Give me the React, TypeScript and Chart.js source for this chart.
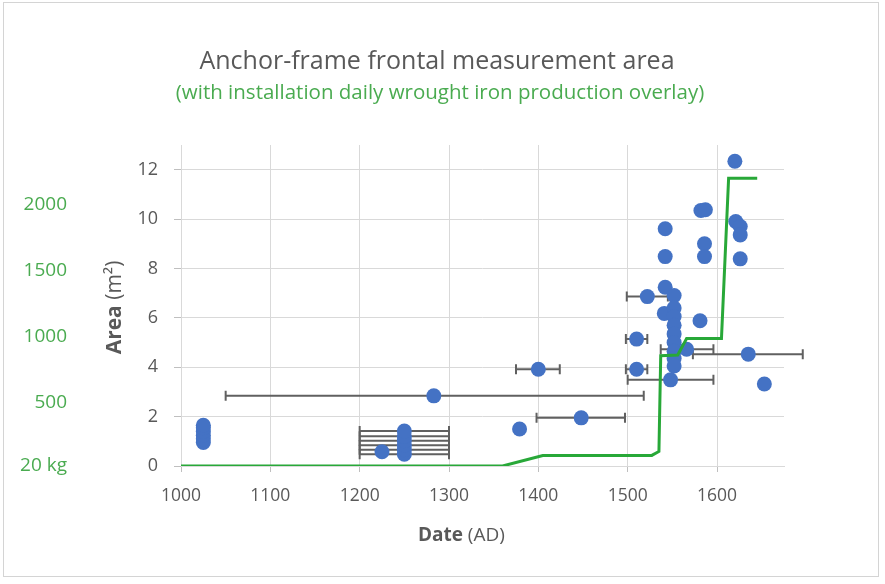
import { useEffect, useRef } from "react";
import { Chart, registerables } from "chart.js";

Chart.register(...registerables);

const FONT = '"Open Sans", "Noto Sans", sans-serif';
const GREY = "#595959";
const GRID = "#d9d9d9";
const GREEN_TEXT = "#4aab50";
const GREEN_LINE = "#28a838";
const BLUE = "#4472c4";
const BAR = "#606060";

const TITLE = "Anchor-frame frontal measurement area";
const SUBTITLE = "(with installation daily wrought iron production overlay)";

// Frontal measurement areas (m²) by estimated date (AD)
const measurementYears = [
  1025, 1025, 1025, 1025, 1025, 1025,
  1225,
  1250, 1250, 1250, 1250, 1250, 1250,
  1283, 1379, 1400, 1448,
  1510, 1510, 1522,
  1542, 1542, 1542, 1541, 1548,
  1552, 1552, 1552, 1552, 1552, 1552, 1552, 1552, 1552,
  1566, 1581, 1582, 1587, 1586, 1586,
  1620, 1621, 1626, 1626, 1626, 1635, 1653,
];
const measurementAreas = [
  0.95, 1.1, 1.25, 1.4, 1.55, 1.65,
  0.58,
  0.48, 0.66, 0.84, 1.02, 1.2, 1.42,
  2.84, 1.5, 3.92, 1.95,
  3.92, 5.14, 6.86,
  9.61, 8.48, 7.24, 6.18, 3.49,
  6.9, 6.4, 6.05, 5.7, 5.35, 5.0, 4.65, 4.35, 4.05,
  4.73, 5.88, 10.35, 10.38, 9.0, 8.48,
  12.34, 9.9, 9.7, 9.36, 8.39, 4.53, 3.32,
];
// Dating ranges (AD); null where the date is not bracketed
const dateRangeFrom: (number | null)[] = [
  null, null, null, null, null, null,
  null,
  1200, 1200, 1200, 1200, 1200, 1200,
  1050, null, 1375, 1398,
  1498, 1498, 1499,
  null, null, null, null, 1500,
  null, null, null, null, null, null, null, null, null,
  1537, null, null, null, null, null,
  null, null, null, null, null, 1573, null,
];
const dateRangeTo: (number | null)[] = [
  null, null, null, null, null, null,
  null,
  1300, 1300, 1300, 1300, 1300, 1300,
  1518, null, 1424, 1497,
  1522, 1522, 1545,
  null, null, null, null, 1596,
  null, null, null, null, null, null, null, null, null,
  1596, null, null, null, null, null,
  null, null, null, null, null, 1696, null,
];

// Installation daily wrought iron production (kg)
const productionYears = [1000, 1360, 1405, 1527, 1535, 1537, 1556, 1566, 1605, 1613, 1645];
const productionKg = [20, 20, 100, 100, 130, 855, 860, 985, 985, 2200, 2200];

const yearTicks = [1000, 1100, 1200, 1300, 1400, 1500, 1600];
const areaTicks = [0, 2, 4, 6, 8, 10, 12];
const kgTicks = [20, 500, 1000, 1500, 2000];

const YEAR_MIN = 1000;
const YEAR_MAX = 1675;
const AREA_MAX = 13;
// kg axis aligned to the area axis: kg = KG_BASE + KG_PER_M2 * area
const KG_BASE = 20;
const KG_PER_M2 = 187;

const dateRangePlugin = {
  id: "dateRanges",
  beforeDatasetsDraw(chart: any) {
    const { ctx, scales } = chart;
    const x = scales.x;
    const y = scales.y;
    ctx.save();
    ctx.strokeStyle = BAR;
    ctx.lineWidth = 2;
    measurementAreas.forEach((a, i) => {
      const lo = dateRangeFrom[i];
      const hi = dateRangeTo[i];
      if (lo == null || hi == null) return;
      const py = y.getPixelForValue(a);
      const x0 = x.getPixelForValue(lo);
      const x1 = x.getPixelForValue(hi);
      ctx.beginPath();
      ctx.moveTo(x0, py);
      ctx.lineTo(x1, py);
      ctx.moveTo(x0, py - 5);
      ctx.lineTo(x0, py + 5);
      ctx.moveTo(x1, py - 5);
      ctx.lineTo(x1, py + 5);
      ctx.stroke();
    });
    ctx.restore();
  },
};

function drawParts(ctx: CanvasRenderingContext2D, parts: [string, boolean][], size: number) {
  const fonts = parts.map(([, bold]) => `${bold ? "bold " : ""}${size}px ${FONT}`);
  const widths = parts.map(([t], i) => {
    ctx.font = fonts[i];
    return ctx.measureText(t).width;
  });
  const total = widths.reduce((s, w) => s + w, 0);
  let cx = -total / 2;
  parts.forEach(([t], i) => {
    ctx.font = fonts[i];
    ctx.fillText(t, cx, 0);
    cx += widths[i];
  });
}

// Heading, subtitle and the mixed-weight axis titles
const textPlugin = {
  id: "chartTexts",
  afterDraw(chart: any) {
    const { ctx, chartArea } = chart;
    ctx.save();
    ctx.textBaseline = "middle";

    ctx.textAlign = "center";
    ctx.fillStyle = GREY;
    ctx.font = `25px ${FONT}`;
    ctx.fillText(TITLE, 437, 62);
    ctx.fillStyle = GREEN_TEXT;
    ctx.font = `20.5px ${FONT}`;
    ctx.fillText(SUBTITLE, 440, 93);

    ctx.textAlign = "left";
    ctx.fillStyle = GREY;
    ctx.save();
    ctx.translate(chartArea.left + (chartArea.right - chartArea.left) * 0.465, 536);
    drawParts(ctx, [["Date", true], [" (AD)", false]], 19);
    ctx.restore();
    ctx.save();
    ctx.translate(115, (chartArea.top + chartArea.bottom) / 2 + 2);
    ctx.rotate(-Math.PI / 2);
    drawParts(ctx, [["Area", true], [" (m²)", false]], 21);
    ctx.restore();
    ctx.restore();
  },
};

export default function App() {
  const canvasRef = useRef<HTMLCanvasElement | null>(null);

  useEffect(() => {
    if (!canvasRef.current) return;
    const chart = new Chart(canvasRef.current, {
      data: {
        datasets: [
          {
            type: "line",
            label: "Daily wrought iron production",
            data: productionYears.map((x, i) => ({ x, y: productionKg[i] })),
            yAxisID: "kg",
            borderColor: GREEN_LINE,
            borderWidth: 3,
            pointRadius: 0,
            tension: 0,
            fill: false,
            order: 0,
          },
          {
            type: "scatter",
            label: "Frontal measurement area",
            data: measurementYears.map((x, i) => ({ x, y: measurementAreas[i] })),
            yAxisID: "y",
            backgroundColor: BLUE,
            borderColor: BLUE,
            borderWidth: 0,
            pointRadius: 7.5,
            order: 1,
          },
        ],
      },
      options: {
        responsive: false,
        animation: false,
        layout: { padding: { left: 10, right: 101, top: 145, bottom: 0 } },
        plugins: {
          legend: { display: false },
          tooltip: { enabled: false },
          title: { display: false },
        },
        scales: {
          x: {
            type: "linear",
            min: YEAR_MIN,
            max: YEAR_MAX,
            afterBuildTicks: (s: any) => {
              s.ticks = yearTicks.map((value) => ({ value }));
            },
            afterFit: (s: any) => {
              s.height = 118;
            },
            grid: { color: GRID, tickLength: 6, tickColor: "#bfbfbf" },
            border: { color: GRID },
            ticks: {
              color: GREY,
              font: { family: FONT, size: 17.5 },
              padding: 14,
              maxRotation: 0,
              autoSkip: false,
              callback: (v: any) => String(v),
            },
          },
          y: {
            type: "linear",
            position: "left",
            weight: 0,
            min: 0,
            max: AREA_MAX,
            afterBuildTicks: (s: any) => {
              s.ticks = areaTicks.map((value) => ({ value }));
            },
            afterFit: (s: any) => {
              s.width = 101;
            },
            grid: { color: GRID, tickLength: 7, tickColor: "#bfbfbf" },
            border: { display: false },
            ticks: {
              color: GREY,
              font: { family: FONT, size: 18 },
              padding: 16,
              callback: (v: any) => String(v),
            },
          },
          kg: {
            type: "linear",
            position: "left",
            weight: 1,
            min: KG_BASE,
            max: KG_BASE + KG_PER_M2 * AREA_MAX,
            afterBuildTicks: (s: any) => {
              s.ticks = kgTicks.map((value) => ({ value }));
            },
            afterFit: (s: any) => {
              s.width = 70;
            },
            grid: { display: false, drawTicks: false },
            border: { display: false },
            ticks: {
              color: GREEN_TEXT,
              font: { family: FONT, size: 19 },
              padding: 13,
              callback: (v: any) => (v === KG_BASE ? "20 kg" : String(v)),
            },
          },
        },
      },
      plugins: [dateRangePlugin, textPlugin],
    } as any);
    return () => chart.destroy();
  }, []);

  return (
    <div
      style={{
        position: "fixed",
        left: 0,
        top: 0,
        width: 885,
        height: 584,
        background: "#ffffff",
      }}
    >
      <div
        style={{
          position: "absolute",
          left: 3,
          top: 2,
          width: 876,
          height: 575,
          border: "1px solid #d4d4d4",
          boxSizing: "border-box",
        }}
      />
      <canvas
        ref={canvasRef}
        width={885}
        height={584}
        style={{ position: "absolute", left: 0, top: 0, width: 885, height: 584 }}
      />
    </div>
  );
}
